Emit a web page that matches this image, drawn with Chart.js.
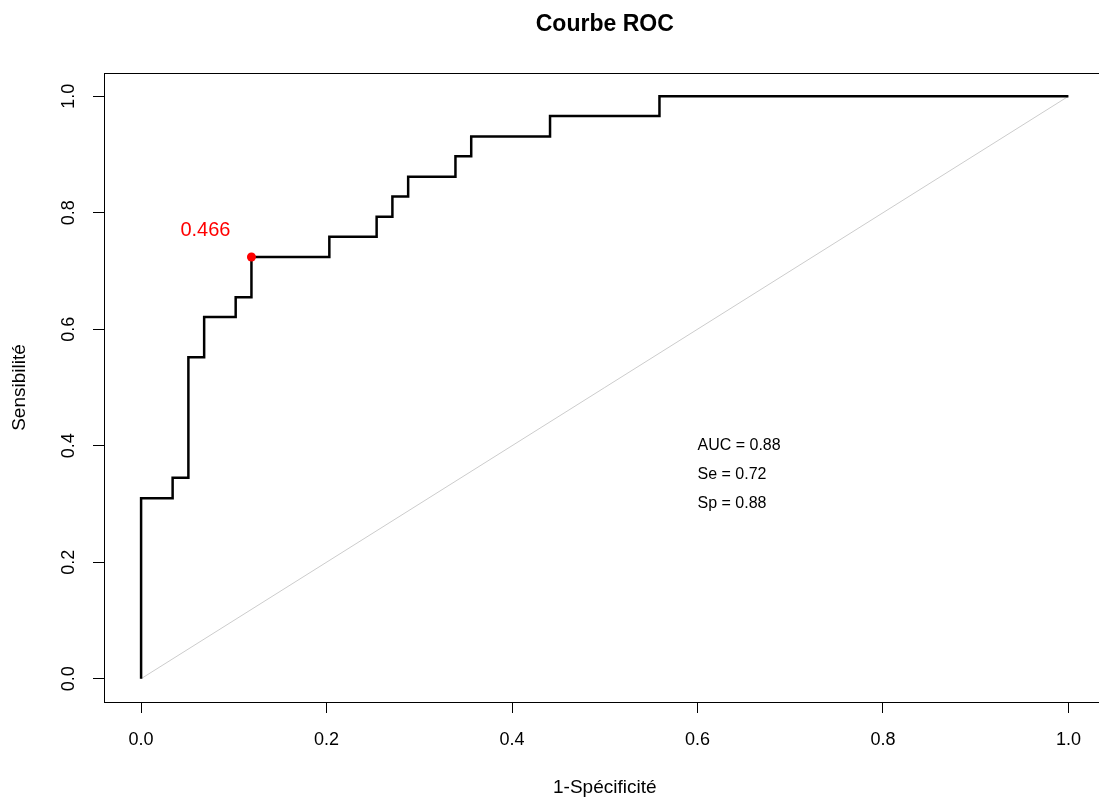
<!DOCTYPE html>
<html>
<head>
<meta charset="utf-8">
<script src="https://cdn.jsdelivr.net/npm/chart.js@4"></script>
<style>
  html, body { margin: 0; padding: 0; overflow: hidden; background: #fff; }
  #wrap { width: 1110px; height: 800px; }
</style>
</head>
<body>
<div id="wrap"><canvas id="roc"></canvas></div>
<script>
// courbe ROC : points (1-spécificité, sensibilité)
const fpr  = [0, 0, 0.034, 0.034, 0.051, 0.051, 0.068, 0.068, 0.102, 0.102, 0.119, 0.119, 0.203, 0.203,
              0.254, 0.254, 0.271, 0.271, 0.288, 0.288, 0.339, 0.339, 0.356, 0.356, 0.441, 0.441, 0.559, 0.559, 1.0];
const sens = [0, 0.310, 0.310, 0.345, 0.345, 0.552, 0.552, 0.621, 0.621, 0.655, 0.655, 0.724, 0.724, 0.759,
              0.759, 0.793, 0.793, 0.828, 0.828, 0.862, 0.862, 0.897, 0.897, 0.931, 0.931, 0.966, 0.966, 1.0, 1.0];

// diagonale
const diagX = [0, 1];
const diagY = [0, 1];

// seuil optimal
const thrFpr = [0.119];
const thrSens = [0.724];
const thrLabel = ['0.466'];

const statLabels = ['AUC = 0.88', 'Se = 0.72', 'Sp = 0.88'];

const tickValues = [0, 0.2, 0.4, 0.6, 0.8, 1.0];
const tickLabels = ['0.0', '0.2', '0.4', '0.6', '0.8', '1.0'];

const FONT = '"Liberation Sans", Arial, sans-serif';

const toPts = (xs, ys) => xs.map((x, i) => ({x: x, y: ys[i]}));

// cadre + textes type R
const rStyle = {
  id: 'rStyle',
  afterDraw(chart) {
    const {ctx, chartArea: a, scales: {x, y}} = chart;
    ctx.save();
    ctx.strokeStyle = '#000';
    ctx.lineWidth = 1;
    ctx.strokeRect(Math.round(a.left) + 0.5, Math.round(a.top) + 0.5,
                   Math.round(a.right - a.left), Math.round(a.bottom - a.top));

    // étiquettes de l'axe y, verticales
    ctx.fillStyle = '#000';
    ctx.font = '18px ' + FONT;
    ctx.textAlign = 'center';
    ctx.textBaseline = 'middle';
    tickValues.forEach((v, i) => {
      ctx.save();
      ctx.translate(69, y.getPixelForValue(v));
      ctx.rotate(-Math.PI / 2);
      ctx.fillText(tickLabels[i], 0, 0);
      ctx.restore();
    });

    // valeur du seuil
    const pt = chart.getDatasetMeta(2).data[0];
    ctx.fillStyle = '#ff0000';
    ctx.font = '20px ' + FONT;
    ctx.fillText(thrLabel[0], pt.x - 46, pt.y - 27);

    // AUC, Se, Sp
    ctx.fillStyle = '#000';
    ctx.font = '16px ' + FONT;
    ctx.textAlign = 'left';
    [0.40, 0.35, 0.30].forEach((v, i) => {
      ctx.fillText(statLabels[i], x.getPixelForValue(0.6), y.getPixelForValue(v));
    });
    ctx.restore();
  }
};

const axisCommon = {
  type: 'linear',
  min: -0.04,
  max: 1.04,
  afterBuildTicks: s => { s.ticks = tickValues.map(v => ({value: v})); },
  grid: { drawOnChartArea: false, drawTicks: true, tickLength: 11, color: '#000', tickColor: '#000' },
  border: { display: true, color: '#000' }
};

new Chart(document.getElementById('roc'), {
  type: 'line',
  data: {
    datasets: [
      {
        data: toPts(diagX, diagY),
        borderColor: '#cccccc',
        borderWidth: 1,
        pointRadius: 0,
        order: 3
      },
      {
        data: toPts(fpr, sens),
        borderColor: '#000',
        borderWidth: 2.5,
        pointRadius: 0,
        borderJoinStyle: 'miter',
        order: 2
      },
      {
        data: toPts(thrFpr, thrSens),
        showLine: false,
        pointRadius: 4.5,
        pointBackgroundColor: '#ff0000',
        pointBorderColor: '#ff0000',
        pointBorderWidth: 0,
        order: 1
      }
    ]
  },
  options: {
    responsive: true,
    maintainAspectRatio: false,
    animation: false,
    layout: { padding: { left: 0, right: 4, top: 0, bottom: 0 } },
    plugins: {
      legend: { display: false },
      tooltip: { enabled: false },
      title: {
        display: true,
        fullSize: false,
        text: 'Courbe ROC',
        color: '#000',
        font: { family: FONT, size: 23, weight: 'bold' },
        padding: { top: 11, bottom: 34.4 }
      }
    },
    scales: {
      x: Object.assign({}, axisCommon, {
        afterFit: s => { s.height = 98; },
        ticks: {
          color: '#000', padding: 16, maxRotation: 0,
          font: { family: FONT, size: 18 },
          callback: (v, i) => tickLabels[i]
        },
        title: {
          display: true, text: '1-Spécificité', color: '#000',
          font: { family: FONT, size: 19 },
          padding: { top: 0, bottom: 0.6 }
        }
      }),
      y: Object.assign({}, axisCommon, {
        afterFit: s => { s.width = 104; },
        ticks: { display: false },
        title: {
          display: true, text: 'Sensibilité', color: '#000',
          font: { family: FONT, size: 19 },
          padding: { top: 8.6, bottom: 0 }
        }
      })
    }
  },
  plugins: [rStyle]
});
</script>
</body>
</html>
